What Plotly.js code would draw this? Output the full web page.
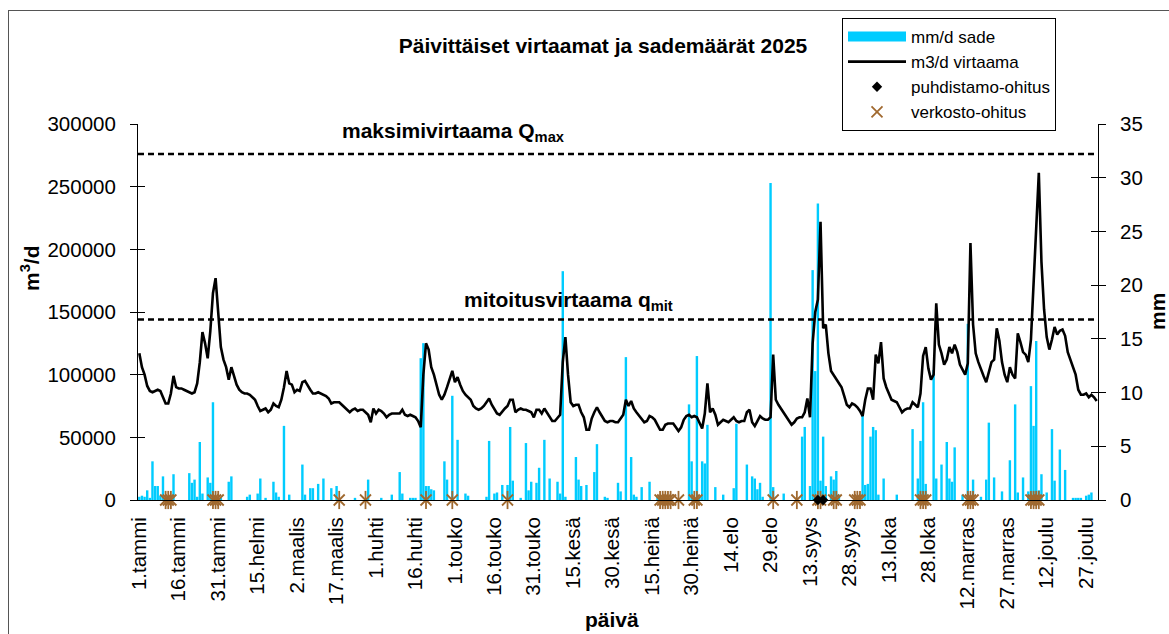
<!DOCTYPE html>
<html>
<head>
<meta charset="utf-8">
<script src="https://cdn.plot.ly/plotly-3.0.1.min.js"></script>
<style>
html,body{margin:0;padding:0;background:#fff;}
#wrap{position:relative;width:1169px;height:634px;overflow:hidden;background:#fff;}
#chart{position:absolute;left:0;top:0;width:1169px;height:634px;}
#frame{position:absolute;left:8px;top:10px;width:1300px;height:800px;border:1px solid #555;box-sizing:border-box;pointer-events:none;}
</style>
</head>
<body>
<div id="wrap"><div id="frame"></div><div id="chart"></div></div>
<script>
// ---- DATA ----
const tickLabels = ['1.tammi','16.tammi','31.tammi','15.helmi','2.maalis','17.maalis','1.huhti','16.huhti','1.touko','16.touko','31.touko','15.kesä','30.kesä','15.heinä','30.heinä','14.elo','29.elo','13.syys','28.syys','13.loka','28.loka','12.marras','27.marras','12.joulu','27.joulu'];
const tickDays = [0,15,30,45,60,75,90,105,120,135,150,165,180,195,210,225,240,255,270,285,300,315,330,345,360];

// daily flow m3/d
const flow = [
117000,106000,100000,91000,87000,86000,87000,88000,87000,82000,
77000,77000,85000,99000,90000,89000,89000,88000,87000,86000,
85000,86000,93000,110000,134000,125000,113000,135000,165000,177000,
148000,122000,112000,106000,96000,106000,99000,92000,88000,86000,
85000,85000,84000,82000,80000,75000,71000,72000,73000,70000,
72000,77000,75000,74000,80000,90000,103000,93000,92000,86000,
88000,87000,94000,95000,91000,88000,85000,85000,86000,85000,
84000,83000,81000,77000,78000,78000,78000,76000,74000,72000,
70000,72000,73000,71000,72000,72000,70000,68000,62000,73000,
69000,72000,71000,69000,66000,68000,69000,69000,69000,69000,
72000,68000,67000,68000,67000,66000,63000,58000,100000,125000,
120000,106000,100000,91000,84000,80000,84000,90000,96000,103000,
94000,98000,92000,87000,84000,82000,80000,75000,73000,72000,
73000,75000,78000,81000,76000,72000,69000,68000,71000,73000,
75000,80000,80000,70000,72000,73000,72000,72000,71000,70000,
66000,72000,72000,69000,73000,70000,66000,63000,63000,66000,
68000,110000,130000,100000,78000,75000,76000,76000,70000,66000,
56000,56000,65000,70000,74000,70000,66000,63000,62000,63000,
63000,62000,62000,65000,68000,80000,75000,79000,73000,70000,
67000,65000,62000,63000,67000,66000,64000,60000,56000,56000,
60000,61000,61000,61000,58000,55000,58000,64000,67000,68000,
66000,67000,66000,62000,57000,69000,93000,70000,73000,68000,
60000,62000,64000,63000,62000,64000,66000,63000,62000,63000,
63000,70000,72000,62000,59000,63000,67000,65000,64000,64000,
66000,116000,80000,76000,73000,70000,67000,64000,60000,62000,
65000,66000,66000,70000,81000,66000,125000,150000,160000,222000,
137000,140000,117000,103000,100000,97000,93000,90000,83000,76000,
74000,77000,76000,74000,71000,67000,80000,89000,89000,80000,
116000,109000,126000,97000,90000,85000,80000,79000,78000,74000,
70000,72000,73000,73000,78000,76000,74000,85000,115000,122000,
105000,96000,100000,157000,124000,117000,108000,112000,122000,117000,
124000,118000,108000,104000,100000,109000,205000,140000,117000,110000,
104000,99000,94000,101000,110000,112000,137000,127000,110000,100000,
94000,106000,100000,97000,133000,126000,118000,116000,110000,128000,
170000,215000,261000,190000,152000,130000,120000,128000,138000,132000,
135000,136000,131000,118000,112000,106000,100000,88000,84000,84000,
85000,82000,84000,82000,79000
];

// daily rain mm/d
const rain = [
0.3,0.4,0.3,0.9,0.2,3.6,1.3,1.3,0.4,2.2,
0.3,0,0,2.4,0,0,0,0,0,2.5,
1.6,1.9,0.3,5.4,0.6,0,2.1,1.6,9.1,0.3,
0,0.2,0,0,1.7,2.2,0,0,0,0,
0,0.3,0.5,0,0,0.6,2.0,0,0.2,0,
0,1.7,0.7,0.3,0,6.9,0,0.5,0,0,
0,0,3.3,0.5,0,1.1,1.1,0,1.5,0,
2.0,0,0,1.1,0,1.3,0,0,0,0,
0,0,0.2,0,0,0,0,1.9,0,0,
0,0,0.2,0,0,0,0.5,0,0,2.6,
0.6,0,0,0.2,0.2,0.2,0,13.2,14.6,1.3,
1.3,1.0,0.9,0,0,0,3.6,1.9,0,9.7,
0,5.6,0,0,0.6,0.4,0,0,0,0,
0,0,0.3,5.5,0,0.6,0.7,0,1.4,0,
1.4,6.8,1.8,0,0,0.2,0,5.3,0.9,1.7,
0,1.6,3.0,0,5.6,0,2.0,0,0,1.7,
0.6,21.3,0.3,0,0,0,4.0,1.9,1.3,0,
1.4,0,0,2.6,5.2,0,0,0.3,0.2,0,
0,0,1.6,0.8,0,13.3,0,4.0,0.5,0.3,
0,1.2,0,0,1.7,0,0,0.3,0,0,
0,0,0,0,0,0,0,0,0,8.9,
3.6,0,13.4,0.3,3.6,3.4,7.0,0,0,1.2,
0,0,0.5,0,0,0,1.1,7.1,0,0,
0,3.3,0,2.2,2.0,1.0,1.6,0.3,0,0,
29.5,1.2,0,0,0,0.6,0,0,0,0,
0,0,5.9,6.8,0,1.3,21.4,12.0,27.6,1.8,
5.9,1.3,0,2.2,1.9,2.7,0.5,0,0,0,
0,0,0,0,0,8.0,1.4,1.5,5.9,6.8,
6.5,0.5,0,2.0,0,0,0,0,0.5,0,
0,0,0,0,6.6,0,2.0,5.5,9.1,1.5,
0,0,12.1,2.0,0,3.3,0,5.4,2.0,1.7,
4.9,0,0,0.5,0,16.4,0,1.9,0,0,
0.3,0,1.9,7.2,0,2.1,0,0,0.8,0,
0,3.7,0,8.9,0.7,0,2.1,0,0.8,10.6,
6.9,14.8,0.9,2.4,0,0.7,0,6.6,1.8,0,
4.7,0,2.8,0,0,0.2,0.2,0.2,0.2,0,
0.4,0.5,0.7,0,0
];

// bypass days (day index from 1.tammi)
const verkostoDays = [10,11,12,28,29,30,76,86,109,119,140,198,199,200,201,202,205,211,212,241,250,258,259,264,265,272,273,274,297,298,299,315,316,317,339,340,341,342];
const puhdistamoDays = [258,260];

const QMAX = 276000;
const QMIT = 144000;

// ---- DRAW ----
const FONT = 'Liberation Sans, Arial, Helvetica, sans-serif';
const CYAN = '#00CCFF';
const BROWN = '#A0692F';
const days = flow.map((_, i) => i);

const L = 138, R = 1098, T = 124, B = 500;
const W = R - L, H = B - T;
const px = x => (x - L) / W;
const py = y => (B - y) / H;

const traces = [
  {type:'bar', x:days, y:rain, yaxis:'y', marker:{color:CYAN, line:{width:0}}, name:'mm/d sade', showlegend:false, hoverinfo:'skip'},
  {type:'scatter', mode:'lines', x:[null], y:[null], yaxis:'y', line:{color:CYAN, width:11}, name:'mm/d sade', legendrank:1},
  {type:'scatter', mode:'lines', x:days, y:flow, yaxis:'y2', line:{color:'#000', width:2.6}, name:'m3/d virtaama', legendrank:2},
  {type:'scatter', mode:'markers', x:verkostoDays, y:verkostoDays.map(() => 0), yaxis:'y2', cliponaxis:false,
   marker:{symbol:'x-thin-open', size:11, color:BROWN, line:{color:BROWN, width:1.8}}, name:'verkosto-ohitus', legendrank:4},
  {type:'scatter', mode:'markers', x:verkostoDays, y:verkostoDays.map(() => 0), yaxis:'y2', cliponaxis:false,
   marker:{symbol:'line-ns-open', size:13, color:BROWN, line:{color:BROWN, width:1.8}}, showlegend:false, hoverinfo:'skip'},
  {type:'scatter', mode:'markers', x:puhdistamoDays, y:puhdistamoDays.map(() => 0), yaxis:'y2', cliponaxis:false,
   marker:{symbol:'diamond', size:8, color:'#000'}, name:'puhdistamo-ohitus', legendrank:3},
  {type:'scatter', mode:'markers', x:[null], y:[null], yaxis:'y3', showlegend:false, hoverinfo:'skip'},
  {type:'scatter', mode:'markers', x:[null], y:[null], yaxis:'y4', showlegend:false, hoverinfo:'skip'}
];

const axisBase = {showgrid:false, zeroline:false, fixedrange:true, tickcolor:'#000', tickwidth:1, tickfont:{family:FONT, size:20.5, color:'#000'}};

const layout = {
  width:1169, height:634,
  margin:{l:L, r:1169 - R, t:T, b:634 - B, pad:0},
  paper_bgcolor:'rgba(0,0,0,0)', plot_bgcolor:'rgba(0,0,0,0)',
  font:{family:FONT, color:'#000', size:17},
  bargap:0.08,
  showlegend:true,
  title:{text:'<b>Päivittäiset virtaamat ja sademäärät 2025</b>', font:{family:FONT, size:21, color:'#000'},
         xref:'container', x:603/1169, xanchor:'center', yref:'container', y:1 - 46/634, yanchor:'middle'},
  xaxis:Object.assign({}, axisBase, {range:[-0.5, 364.5], tickmode:'array', tickvals:tickDays, ticktext:tickLabels,
         tickangle:-90, ticks:'', showline:true, linecolor:'#000', linewidth:1, ticklabelstandoff:8}),
  yaxis:Object.assign({}, axisBase, {side:'right', range:[0,35], tickmode:'linear', tick0:0, dtick:5, ticks:'outside', ticklen:7,
         showline:true, linecolor:'#000', linewidth:1, ticklabelstandoff:10}),
  yaxis2:Object.assign({}, axisBase, {overlaying:'y', side:'left', range:[0,300000], tickmode:'linear', tick0:0, dtick:50000,
         tickformat:'d', ticks:'outside', ticklen:7, showline:true, linecolor:'#000', linewidth:1, ticklabelstandoff:10}),
  yaxis3:Object.assign({}, axisBase, {overlaying:'y', side:'left', range:[0,300000], tickmode:'linear', tick0:0, dtick:50000,
         ticks:'inside', ticklen:7, showticklabels:false, showline:false}),
  yaxis4:Object.assign({}, axisBase, {overlaying:'y', side:'right', range:[0,35], tickmode:'linear', tick0:0, dtick:5,
         ticks:'inside', ticklen:7, showticklabels:false, showline:false}),
  legend:{x:px(842), y:py(18), xanchor:'left', yanchor:'top', bgcolor:'#fff', bordercolor:'#000', borderwidth:1,
          font:{family:FONT, size:17, color:'#000'}, itemwidth:58, traceorder:'normal', tracegroupgap:0},
  shapes:[QMAX, QMIT].map(v => ({type:'line', xref:'paper', x0:0, x1:1, yref:'y2', y0:v, y1:v, layer:'above',
          line:{color:'#000', width:2.5, dash:'6px,4px'}})),
  annotations:[
    {text:'<b>maksimivirtaama Q<sub>max</sub></b>', xref:'paper', yref:'paper', x:px(340), y:py(132), xanchor:'left', yanchor:'middle',
     showarrow:false, font:{family:FONT, size:21, color:'#000'}},
    {text:'<b>mitoitusvirtaama q<sub>mit</sub></b>', xref:'paper', yref:'paper', x:px(462), y:py(301), xanchor:'left', yanchor:'middle',
     showarrow:false, font:{family:FONT, size:21, color:'#000'}},
    {text:'<b>m<sup>3</sup>/d</b>', xref:'paper', yref:'paper', x:px(30), y:py(268), xanchor:'center', yanchor:'middle', textangle:-90,
     showarrow:false, font:{family:FONT, size:21, color:'#000'}},
    {text:'<b>mm</b>', xref:'paper', yref:'paper', x:px(1157), y:py(312), xanchor:'center', yanchor:'middle', textangle:-90,
     showarrow:false, font:{family:FONT, size:21, color:'#000'}},
    {text:'<b>päivä</b>', xref:'paper', yref:'paper', x:px(612), y:py(619), xanchor:'center', yanchor:'middle',
     showarrow:false, font:{family:FONT, size:21, color:'#000'}}
  ]
};

Plotly.newPlot('chart', traces, layout, {displayModeBar:false, staticPlot:true});
</script>
</body>
</html>
